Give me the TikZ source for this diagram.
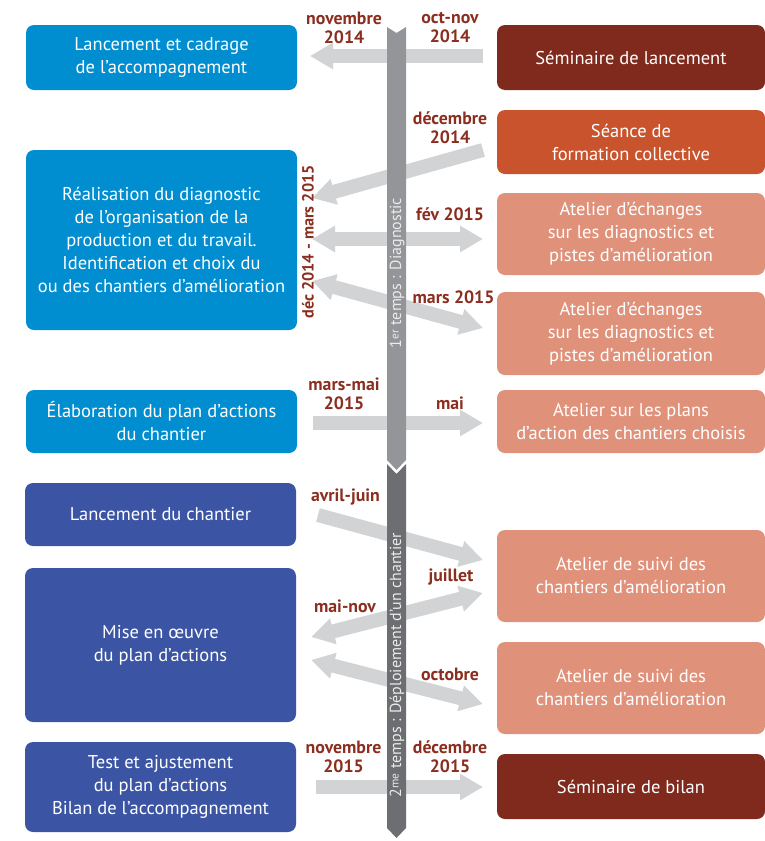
\documentclass[tikz,border=0pt]{standalone}
\usepackage{fontspec}
\setmainfont{PT Sans}
\usetikzlibrary{arrows.meta}

\definecolor{bleuclair}{RGB}{0,142,208}
\definecolor{bleufonce}{RGB}{59,85,164}
\definecolor{brun}{RGB}{127,42,28}
\definecolor{orange}{RGB}{201,83,44}
\definecolor{saumon}{RGB}{224,145,122}
\definecolor{rougedate}{RGB}{139,46,31}
\definecolor{grisfleche}{RGB}{209,211,212}
\definecolor{grisbarre}{RGB}{147,149,152}
\definecolor{grisfonce}{RGB}{109,110,113}

\begin{document}
\begin{tikzpicture}[x=1pt, y=-1pt,
    boite/.style = {rounded corners=8pt, text=white, align=center, inner sep=0pt,
        font=\fontsize{18.5}{23}\selectfont},
    gauche/.style = {boite, minimum width=271pt},
    droite/.style = {boite, minimum width=268pt},
    date/.style = {text=rougedate, align=center, inner sep=0pt,
        font=\bfseries\fontsize{17.8}{19}\selectfont},
    fleche/.style = {draw=grisfleche, line width=14pt,
        >={Triangle[length=23pt, width=25pt]}},
    temps/.style = {rotate=90, text=white!92!black, inner sep=0pt,
        font=\fontsize{16}{18}\selectfont}]

    \useasboundingbox (0,0) rectangle (765,841);

    % colonne de gauche
    \node [gauche, fill=bleuclair, minimum height=65pt] (cadrage) at (161.5,57.5)
        {Lancement et cadrage\\de l’accompagnement};
    \node [gauche, fill=bleuclair, minimum height=180pt] (diagnostic) at (161.5,240)
        {Réalisation du diagnostic\\de l’organisation de la\\production et du travail.\\Identification et choix du\\ou des chantiers d’amélioration};
    \node [gauche, fill=bleuclair, minimum height=63pt] (elaboration) at (161.5,421.5)
        {Élaboration du plan d’actions\\du chantier};
    \node [gauche, fill=bleufonce, minimum height=63pt] (lancement) at (160.5,514.5)
        {Lancement du chantier};
    \node [gauche, fill=bleufonce, minimum height=154pt] (miseoeuvre) at (160.5,645)
        {Mise en œuvre\\du plan d’actions};
    \node [gauche, fill=bleufonce, minimum height=90pt] (bilan) at (160.5,787)
        {Test et ajustement\\du plan d’actions\\Bilan de l’accompagnement};

    % colonne de droite
    \node [droite, fill=brun, minimum height=65pt] (seminaire) at (631,57.5)
        {Séminaire de lancement};
    \node [droite, fill=orange, minimum height=64pt] (formation) at (631,142)
        {Séance de\\formation collective};
    \node [droite, fill=saumon, minimum height=82pt] (echanges1) at (631,234)
        {Atelier d’échanges\\sur les diagnostics et\\pistes d’amélioration};
    \node [droite, fill=saumon, minimum height=83pt] (echanges2) at (631,333.5)
        {Atelier d’échanges\\sur les diagnostics et\\pistes d’amélioration};
    \node [droite, fill=saumon, minimum height=63pt] (plans) at (631,421.5)
        {Atelier sur les plans\\d’action des chantiers choisis};
    \node [droite, fill=saumon, minimum height=92pt] (suivi1) at (631,576)
        {Atelier de suivi des\\chantiers d’amélioration};
    \node [droite, fill=saumon, minimum height=92pt] (suivi2) at (631,688)
        {Atelier de suivi des\\chantiers d’amélioration};
    \node [droite, fill=brun, minimum height=65pt] (seminairebilan) at (631,786.5)
        {Séminaire de bilan};

    % extremites des fleches
    \coordinate (a1) at (483,56);  \coordinate (b1) at (310,56);
    \coordinate (a2) at (483,150); \coordinate (b2) at (312,198);
    \coordinate (a3) at (312,239); \coordinate (b3) at (483,239);
    \coordinate (a4) at (312,281); \coordinate (b4) at (483,328);
    \coordinate (a5) at (313,423); \coordinate (b5) at (483,423);
    \coordinate (a6) at (318,515); \coordinate (b6) at (483,560);
    \coordinate (a7) at (311,637); \coordinate (b7) at (483,593);
    \coordinate (a8) at (311,660); \coordinate (b8) at (483,704);
    \coordinate (a9) at (316,787); \coordinate (b9) at (483,787);

    \draw [fleche, ->] (a1) -- (b1);
    \draw [fleche, ->] (a2) -- (b2);
    \draw [fleche, <->] (a3) -- (b3);
    \draw [fleche, <->] (a4) -- (b4);
    \draw [fleche, ->] (a5) -- (b5);
    \draw [fleche, ->] (a6) -- (b6);
    \draw [fleche, <->] (a7) -- (b7);
    \draw [fleche, <->] (a8) -- (b8);
    \draw [fleche, ->] (a9) -- (b9);

    % barre du temps
    \fill [grisbarre] (387,27) -- (396.5,33) -- (406,27) -- (406,460)
        -- (396.5,470) -- (387,460) -- cycle;
    \fill [grisfonce] (387,464) -- (396.5,474) -- (406,464) -- (406,828)
        -- (396.5,838) -- (387,828) -- cycle;
    \node [temps] (temps1) at (397,273)
        {1\raisebox{2.5pt}{\fontsize{11.5}{11.5}\selectfont er} temps : Diagnostic};
    \node [temps] (temps2) at (397,665)
        {2\raisebox{2.5pt}{\fontsize{11.5}{11.5}\selectfont me} temps : Déploiement d’un chantier};

    % dates
    \node [date] (d1) at (344,28) {novembre\\2014};
    \node [date] (d2) at (450,28) {oct-nov\\2014};
    \node [date] (d3) at (450,128) {décembre\\2014};
    \node [date, rotate=90, font=\bfseries\fontsize{16.2}{19}\selectfont] (d4) at (308,242) {déc 2014 - mars 2015};
    \node [date] (d5) at (450,214) {fév 2015};
    \node [date] (d6) at (453.5,297) {mars 2015};
    \node [date] (d7) at (344,394) {mars-mai\\2015};
    \node [date] (d8) at (450,403) {mai};
    \node [date] (d9) at (345.5,497) {avril-juin};
    \node [date] (d10) at (451,577) {juillet};
    \node [date] (d11) at (345,606) {mai-nov};
    \node [date] (d12) at (450,674) {octobre};
    \node [date] (d13) at (343.5,757) {novembre\\2015};
    \node [date] (d14) at (450,757) {décembre\\2015};
\end{tikzpicture}
\end{document}
